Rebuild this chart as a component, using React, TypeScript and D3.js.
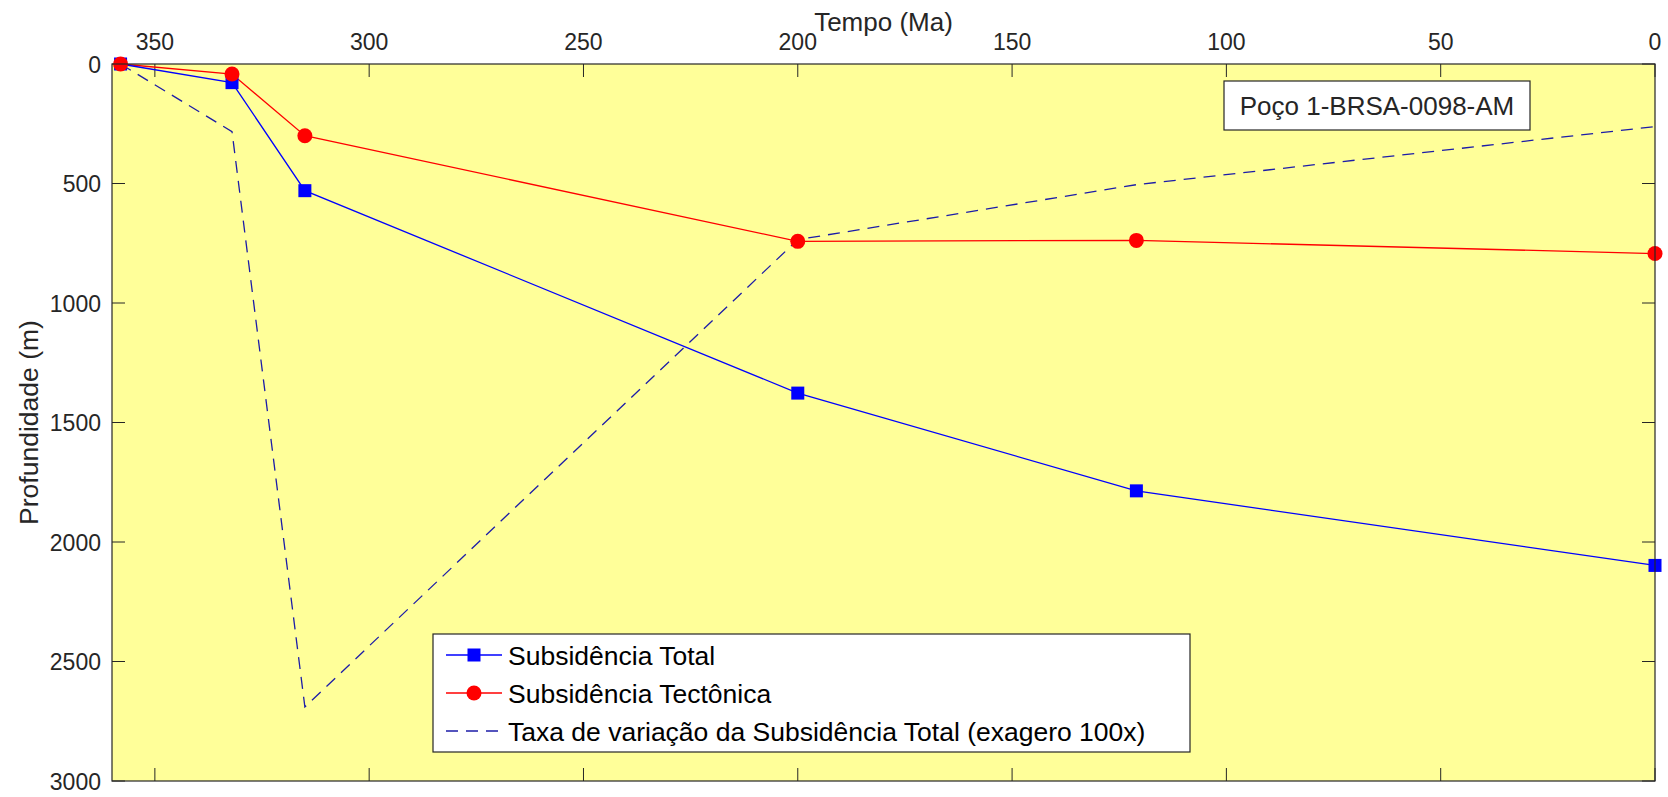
import React from 'react';
import * as d3 from 'd3';

// ---- data ----
const ages = [358, 332, 315, 200, 121, 0];
const totalSubsidence = [0, 78, 530, 1377, 1786, 2098];
const tectonicSubsidence = [0, 42, 300, 742, 738, 793];
const rateAges = [358, 332, 315, 200, 121, 0];
const rateExaggerated = [0, 283, 2690, 735, 505, 262];
const xTicks = [350, 300, 250, 200, 150, 100, 50, 0];
const yTicks = [0, 500, 1000, 1500, 2000, 2500, 3000];
const legendLabels = [
  'Subsidência Total',
  'Subsidência Tectônica',
  'Taxa de variação da Subsidência Total (exagero 100x)',
];
const annotation = 'Poço 1-BRSA-0098-AM';
const xLabel = 'Tempo (Ma)';
const yLabel = 'Profundidade (m)';

const W = 1668;
const H = 797;
const plot = { left: 112, right: 1655, top: 64, bottom: 781 };
const FONT = '"Liberation Sans", Arial, Helvetica, sans-serif';
const AX = '#262626';
const BLUE = '#0000ff';
const RED = '#ff0000';
const DASH = '#1c1ca8';
const BG = '#ffff99';

export default function App() {
  const x = d3.scaleLinear().domain([360, 0]).range([plot.left, plot.right]);
  const y = d3.scaleLinear().domain([0, 3000]).range([plot.top, plot.bottom]);

  const line = d3
    .line<[number, number]>()
    .x((d) => x(d[0]))
    .y((d) => y(d[1]));

  const totalPts: [number, number][] = ages.map((a, i) => [a, totalSubsidence[i]]);
  const tectPts: [number, number][] = ages.map((a, i) => [a, tectonicSubsidence[i]]);
  const ratePts: [number, number][] = rateAges.map((a, i) => [a, rateExaggerated[i]]);

  const tickLen = 13;
  const sq = 13;
  const cr = 7.5;

  const legend = { x0: 433, x1: 1190, y0: 634, y1: 752 };
  const rowY = [655, 693, 731];
  const sampleX0 = 446;
  const sampleX1 = 502;
  const sampleMid = (sampleX0 + sampleX1) / 2;

  return (
    <svg
      width={W}
      height={H}
      style={{ position: 'absolute', left: 0, top: 0, background: '#ffffff' }}
      fontFamily={FONT}
    >
      <rect
        x={plot.left}
        y={plot.top}
        width={plot.right - plot.left}
        height={plot.bottom - plot.top}
        fill={BG}
      />

      {/* ticks */}
      {xTicks.map((t) => (
        <g key={'xt' + t}>
          <line x1={x(t)} x2={x(t)} y1={plot.top} y2={plot.top + tickLen} stroke={AX} strokeWidth={1} />
          <line x1={x(t)} x2={x(t)} y1={plot.bottom} y2={plot.bottom - tickLen} stroke={AX} strokeWidth={1} />
          <text x={x(t)} y={50} textAnchor="middle" fontSize={23} fill={AX}>
            {t}
          </text>
        </g>
      ))}
      {yTicks.map((t) => (
        <g key={'yt' + t}>
          <line x1={plot.left} x2={plot.left + tickLen} y1={y(t)} y2={y(t)} stroke={AX} strokeWidth={1} />
          <line x1={plot.right} x2={plot.right - tickLen} y1={y(t)} y2={y(t)} stroke={AX} strokeWidth={1} />
          <text x={101} y={y(t) + 8.5} textAnchor="end" fontSize={23} fill={AX}>
            {t}
          </text>
        </g>
      ))}

      {/* axis labels */}
      <text x={(plot.left + plot.right) / 2} y={31} textAnchor="middle" fontSize={26} fill={AX}>
        {xLabel}
      </text>
      <text
        transform={`translate(38, ${(plot.top + plot.bottom) / 2}) rotate(-90)`}
        textAnchor="middle"
        fontSize={26.5}
        fill={AX}
      >
        {yLabel}
      </text>

      {/* series */}
      <path d={line(ratePts) || ''} fill="none" stroke={DASH} strokeWidth={1.3} strokeDasharray="12 8" />
      <path d={line(tectPts) || ''} fill="none" stroke={RED} strokeWidth={1.3} />
      <path d={line(totalPts) || ''} fill="none" stroke={BLUE} strokeWidth={1.3} />
      {totalPts.map((d, i) => (
        <rect key={'s' + i} x={x(d[0]) - sq / 2} y={y(d[1]) - sq / 2} width={sq} height={sq} fill={BLUE} />
      ))}
      {tectPts.map((d, i) => (
        <circle key={'c' + i} cx={x(d[0])} cy={y(d[1])} r={cr} fill={RED} />
      ))}

      {/* axes box */}
      <rect
        x={plot.left}
        y={plot.top}
        width={plot.right - plot.left}
        height={plot.bottom - plot.top}
        fill="none"
        stroke={AX}
        strokeWidth={1.2}
      />

      {/* annotation box */}
      <rect x={1224} y={81} width={306} height={49} fill="#ffffff" stroke={AX} strokeWidth={1.2} />
      <text x={1377} y={115} textAnchor="middle" fontSize={26} fill={AX}>
        {annotation}
      </text>

      {/* legend */}
      <rect
        x={legend.x0}
        y={legend.y0}
        width={legend.x1 - legend.x0}
        height={legend.y1 - legend.y0}
        fill="#ffffff"
        stroke={AX}
        strokeWidth={1.2}
      />
      <line x1={sampleX0} x2={sampleX1} y1={rowY[0]} y2={rowY[0]} stroke={BLUE} strokeWidth={1.3} />
      <rect x={sampleMid - sq / 2} y={rowY[0] - sq / 2} width={sq} height={sq} fill={BLUE} />
      <line x1={sampleX0} x2={sampleX1} y1={rowY[1]} y2={rowY[1]} stroke={RED} strokeWidth={1.3} />
      <circle cx={sampleMid} cy={rowY[1]} r={cr} fill={RED} />
      <line
        x1={sampleX0}
        x2={sampleX1}
        y1={rowY[2]}
        y2={rowY[2]}
        stroke={DASH}
        strokeWidth={1.3}
        strokeDasharray="12 8"
      />
      {legendLabels.map((l, i) => (
        <text key={l} x={508} y={rowY[i] + 9.5} fontSize={26.5} fill="#000000">
          {l}
        </text>
      ))}
    </svg>
  );
}
